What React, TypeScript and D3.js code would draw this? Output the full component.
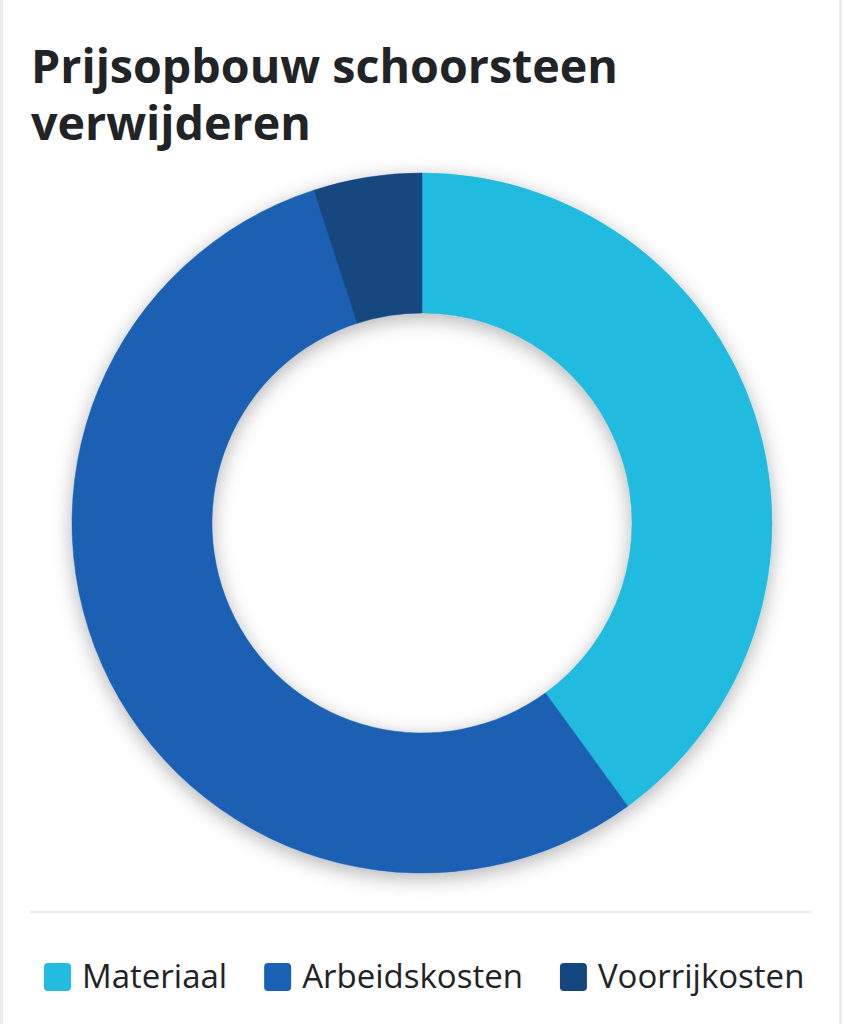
import { useEffect, useRef } from "react";
import * as d3 from "d3";

const categories = ["Materiaal", "Arbeidskosten", "Voorrijkosten"];
const shares = [40, 55, 5];
const colors = ["#23bbe0", "#1a60b4", "#14477f"];
const titleLines = ["Prijsopbouw schoorsteen", "verwijderen"];

const W = 843;
const H = 1024;

export default function App() {
  const svgRef = useRef<SVGSVGElement | null>(null);

  useEffect(() => {
    if (!svgRef.current) return;
    const svg = d3.select(svgRef.current);
    svg.selectAll("*").remove();

    const defs = svg.append("defs");
    const f = defs
      .append("filter")
      .attr("id", "ringShadow")
      .attr("x", "-20%")
      .attr("y", "-20%")
      .attr("width", "140%")
      .attr("height", "140%");
    f.append("feDropShadow")
      .attr("dx", 0)
      .attr("dy", 5)
      .attr("stdDeviation", 10)
      .attr("flood-color", "#000")
      .attr("flood-opacity", 0.3);

    // card edges
    svg.append("rect").attr("width", W).attr("height", H).attr("fill", "#fff");
    svg.append("line").attr("x1", 1.5).attr("x2", 1.5).attr("y1", 0).attr("y2", H)
      .attr("stroke", "#e9ebed").attr("stroke-width", 3);
    svg.append("line").attr("x1", 840.5).attr("x2", 840.5).attr("y1", 0).attr("y2", H)
      .attr("stroke", "#e9ebed").attr("stroke-width", 3);

    // title
    svg.append("text")
      .attr("font-family", "'Open Sans', sans-serif")
      .attr("font-weight", 700)
      .attr("font-size", 46.6)
      .attr("fill", "#212327")
      .selectAll("tspan")
      .data(titleLines)
      .join("tspan")
      .attr("x", 31)
      .attr("y", (_d, i) => 83 + i * 57)
      .text((d) => d);

    // donut
    const cx = 422;
    const cy = 523;
    const outer = 350;
    const inner = 210;
    const pie = d3.pie<number>().sort(null).value((d) => d);
    const arc = d3.arc<d3.PieArcDatum<number>>().innerRadius(inner).outerRadius(outer);
    const g = svg.append("g")
      .attr("transform", `translate(${cx},${cy})`)
      .attr("filter", "url(#ringShadow)");
    g.selectAll("path")
      .data(pie(shares))
      .join("path")
      .attr("d", (d) => arc(d) as string)
      .attr("fill", (_d, i) => colors[i])
      .attr("stroke", (_d, i) => colors[i])
      .attr("stroke-width", 0.5);

    // separator
    svg.append("line").attr("x1", 30).attr("x2", 812).attr("y1", 912).attr("y2", 912)
      .attr("stroke", "#e8ecee").attr("stroke-width", 2.5);

    // legend
    const legend = svg.append("g");
    let x = 44;
    categories.forEach((c, i) => {
      const item = legend.append("g");
      item.append("rect")
        .attr("x", x).attr("y", 963).attr("width", 27).attr("height", 28)
        .attr("rx", 4).attr("fill", colors[i]);
      const t = item.append("text")
        .attr("x", x + 38).attr("y", 988)
        .attr("font-family", "'Open Sans', sans-serif")
        .attr("font-size", 33)
        .attr("fill", "#222326")
        .text(c);
      const tw = (t.node() as SVGTextElement).getComputedTextLength();
      x += 38 + tw + 37;
    });
  }, []);

  return (
    <div style={{ position: "absolute", left: 0, top: 0, width: W, height: H, background: "#fff" }}>
      <svg ref={svgRef} width={W} height={H} style={{ display: "block" }} />
    </div>
  );
}
